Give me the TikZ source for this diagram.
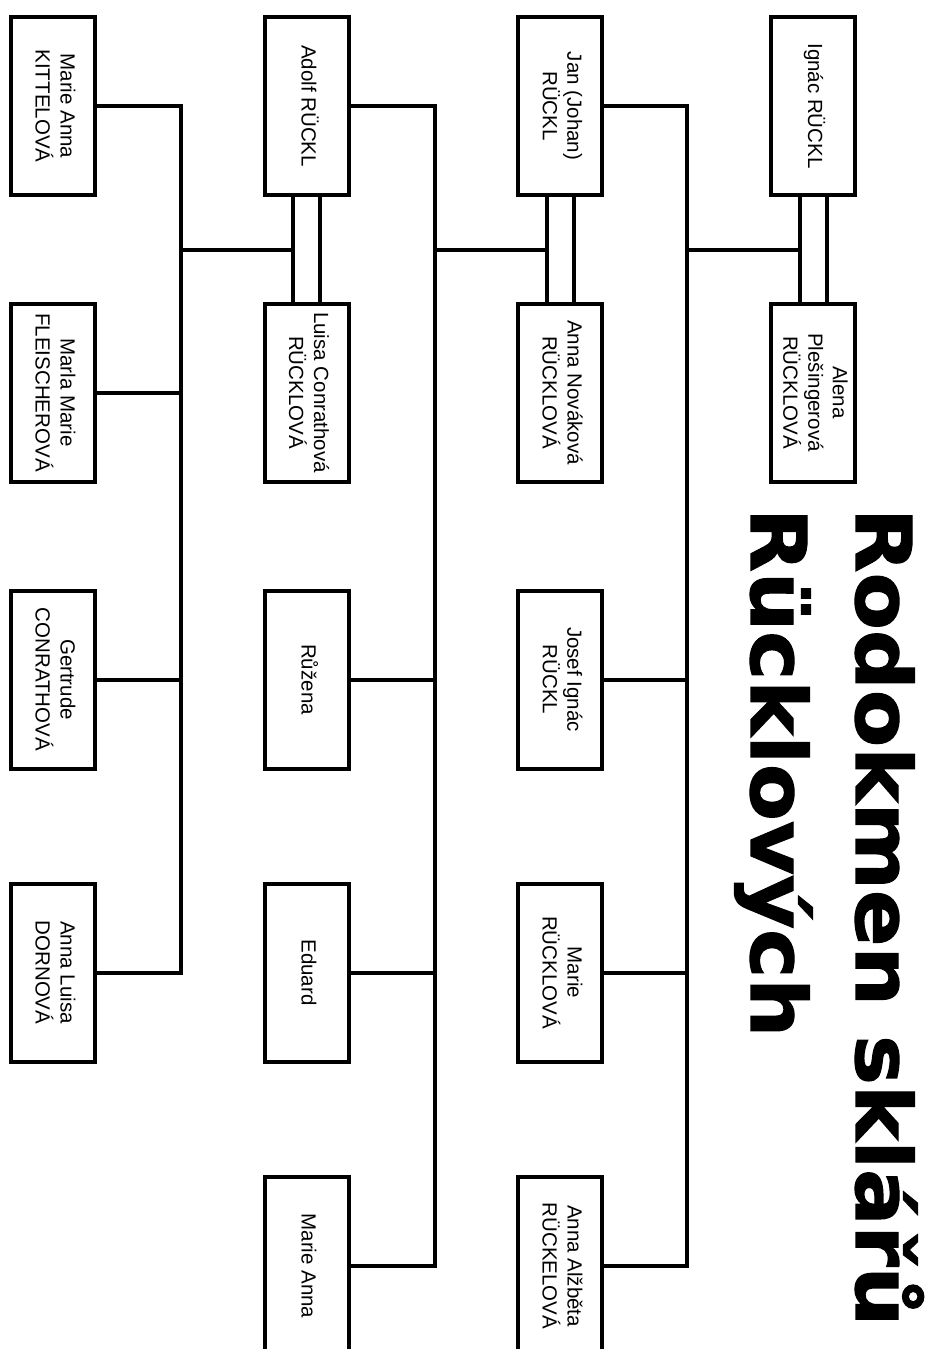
\documentclass[tikz,border=0pt]{standalone}
\usepackage{fontspec}
\usepackage{graphicx}
\setmainfont{Liberation Sans}
\newfontfamily\titlefont{DejaVu Sans Bold}[FakeBold=1.5]
\newcommand\rotname[1]{\rotatebox{-90}{\begin{tabular}{@{}c@{}}#1\end{tabular}}}
\tikzset{
  person/.style={draw, line width=4pt, minimum width=84pt, minimum height=178pt,
    inner sep=0pt, font=\fontsize{20.5}{24.5}\selectfont},
  link/.style={line width=4pt},
  titletext/.style={inner sep=0pt, rotate=-90, anchor=base west,
    font=\titlefont\fontsize{77}{80}\selectfont}
}
\begin{document}
\begin{tikzpicture}[x=1pt,y=-1pt]
\useasboundingbox (0,0) rectangle (933,1349);
\clip (0,0) rectangle (933,1349);
% column A
\node[person] (A1) at (53,106) {\rotname{Marie Anna\\KITTELOVÁ}};
\node[person] (A2) at (53,392.5) {\rotname{Marla Marie\\FLEISCHEROVÁ}};
\node[person] (A3) at (53,679.5) {\rotname{Gertrude\\CONRATHOVÁ}};
\node[person] (A4) at (53,972.5) {\rotname{Anna Luisa\\DORNOVÁ}};
% column B
\node[person] (B1) at (306.5,106) {\rotname{Adolf RÜCKL}};
\node[person] (B2) at (306.5,392.5) {\rotname{Luisa Conrathová\\RÜCKLOVÁ}};
\node[person] (B3) at (306.5,679.5) {\rotname{Růžena}};
\node[person] (B4) at (306.5,972.5) {\rotname{Eduard}};
\node[person] (B5) at (306.5,1266) {\rotname{Marie Anna}};
% column C
\node[person] (C1) at (560,106) {\rotname{Jan (Johan)\\RÜCKL}};
\node[person] (C2) at (560,392.5) {\rotname{Anna Nováková\\RÜCKLOVÁ}};
\node[person] (C3) at (560,679.5) {\rotname{Josef Ignác\\RÜCKL}};
\node[person] (C4) at (560,972.5) {\rotname{Marie\\RÜCKLOVÁ}};
\node[person] (C5) at (560,1266) {\rotname{Anna Alžběta\\RÜCKELOVÁ}};
% column D
\node[person] (D1) at (813,106) {\rotname{Ignác RÜCKL}};
\node[person] (D2) at (813,392.5) {\rotname{Alena\\Plešingerová\\RÜCKLOVÁ}};
% title
\node[titletext] (t1) at (856,508) {\resizebox{818pt}{\height}{Rodokmen sklářů}};
\node[titletext] (t2) at (751,508) {\resizebox{529pt}{\height}{Rücklových}};
% buses and marriage points
\coordinate (busA) at (181,0);
\coordinate (busB) at (435,0);
\coordinate (busC) at (687,0);
\coordinate (mB) at (306.5,250);
\coordinate (mC) at (560,250);
\coordinate (mD) at (813,250);
% marriages (double lines)
\foreach \p in {B,C,D}{
  \draw[link] ([xshift=-13.5pt]\p1.south) -- ([xshift=-13.5pt]\p2.north);
  \draw[link] ([xshift=13.5pt]\p1.south) -- ([xshift=13.5pt]\p2.north);
}
% family A -> B
\draw[link] (A1.east) -| (busA |- A4.east) -- (A4.east);
\draw[link] (A2.east) -- (A2.east -| busA);
\draw[link] (A3.east) -- (A3.east -| busA);
\draw[link] (busA |- mB) -- ([xshift=-13.5pt]mB);
% family B -> C
\draw[link] (B1.east) -| (busB |- B5.east) -- (B5.east);
\draw[link] (B3.east) -- (B3.east -| busB);
\draw[link] (B4.east) -- (B4.east -| busB);
\draw[link] (busB |- mC) -- ([xshift=-13.5pt]mC);
% family C -> D
\draw[link] (C1.east) -| (busC |- C5.east) -- (C5.east);
\draw[link] (C3.east) -- (C3.east -| busC);
\draw[link] (C4.east) -- (C4.east -| busC);
\draw[link] (busC |- mD) -- ([xshift=-13.5pt]mD);
\end{tikzpicture}
\end{document}
